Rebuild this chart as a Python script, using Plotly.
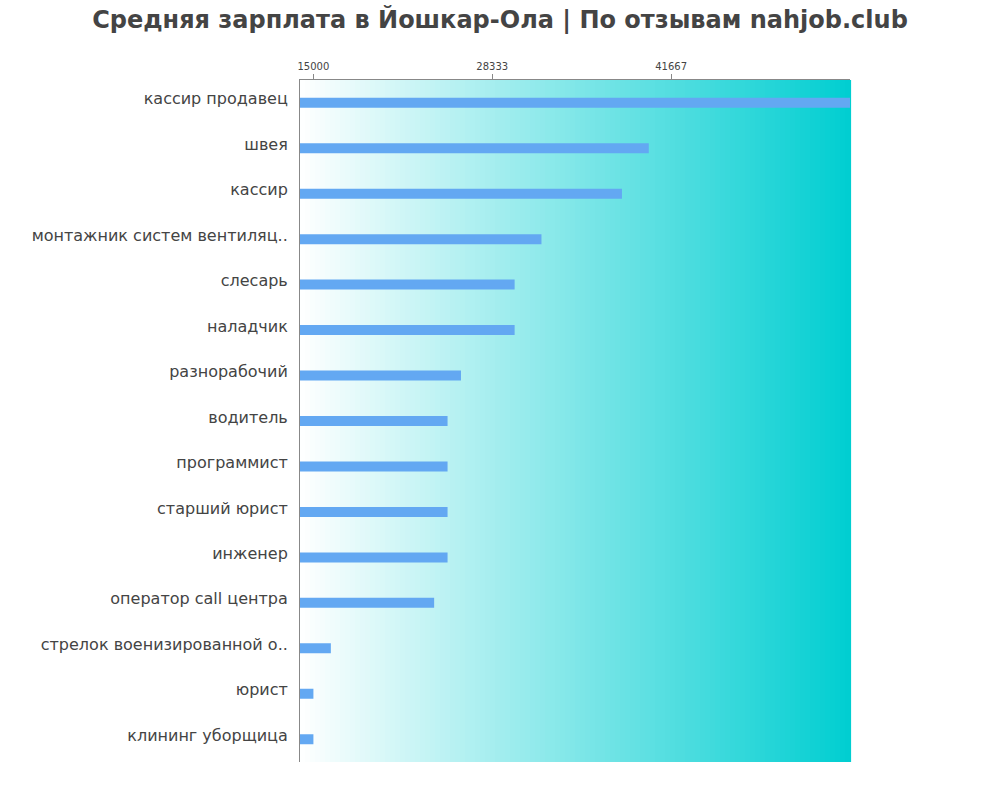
import plotly.graph_objects as go

categories = ["кассир продавец", "швея", "кассир", "монтажник систем вентиляц..", "слесарь",
              "наладчик", "разнорабочий", "водитель", "программист", "старший юрист",
              "инженер", "оператор call центра", "стрелок военизированной о..", "юрист",
              "клининг уборщица"]
salaries = [55000, 40000, 38000, 32000, 30000, 30000, 26000, 25000, 25000, 25000,
            25000, 24000, 16300, 15000, 15000]
tick_vals = [15000, 28333, 41667]
tick_text = ["15000", "28333", "41667"]

fig = go.Figure()
fig.add_trace(go.Bar(
    x=salaries, y=categories, orientation="h", base=0,
    marker=dict(color="#63a8f2", line=dict(width=0)),
    width=0.22, hoverinfo="x+y",
))

# horizontal gradient background
shapes = []
n = 110
for i in range(n):
    t = (i + 0.5) / n
    r = round(255 + (0 - 255) * t)
    g = round(255 + (206 - 255) * t)
    b = round(255 + (209 - 255) * t)
    shapes.append(dict(type="rect", xref="x domain", yref="y domain",
                       x0=i / n, x1=(i + 1) / n + 0.002, y0=0, y1=1,
                       fillcolor=f"rgb({r},{g},{b})", line=dict(width=0), layer="below"))

fig.update_layout(
    width=1000, height=800,
    margin=dict(l=300, r=150, t=80, b=38),
    paper_bgcolor="white", plot_bgcolor="white",
    shapes=shapes,
    showlegend=False,
    font=dict(family="DejaVu Sans", color="#444"),
    title=dict(text="<b>Средняя зарплата в Йошкар-Ола | По отзывам nahjob.club</b>",
               x=0.5, xref="container", xanchor="center", y=0.975, yanchor="middle",
               font=dict(size=24, color="#444", family="DejaVu Sans")),
    xaxis=dict(side="top", range=[14000, 55000], tickvals=tick_vals, ticktext=tick_text,
               ticks="outside", ticklen=5, tickcolor="#888", showline=True, linecolor="#888",
               showgrid=False, zeroline=False, tickfont=dict(size=10, color="#444"), fixedrange=True),
    yaxis=dict(autorange="reversed", showline=True, linecolor="#888", showgrid=False,
               ticks="", tickfont=dict(size=16, color="#444"), ticklabelstandoff=8,
               ticklabelshift=4, fixedrange=True),
)
fig.write_html("out.html", config={"displayModeBar": False},
               post_script="document.body.style.margin='0';")
